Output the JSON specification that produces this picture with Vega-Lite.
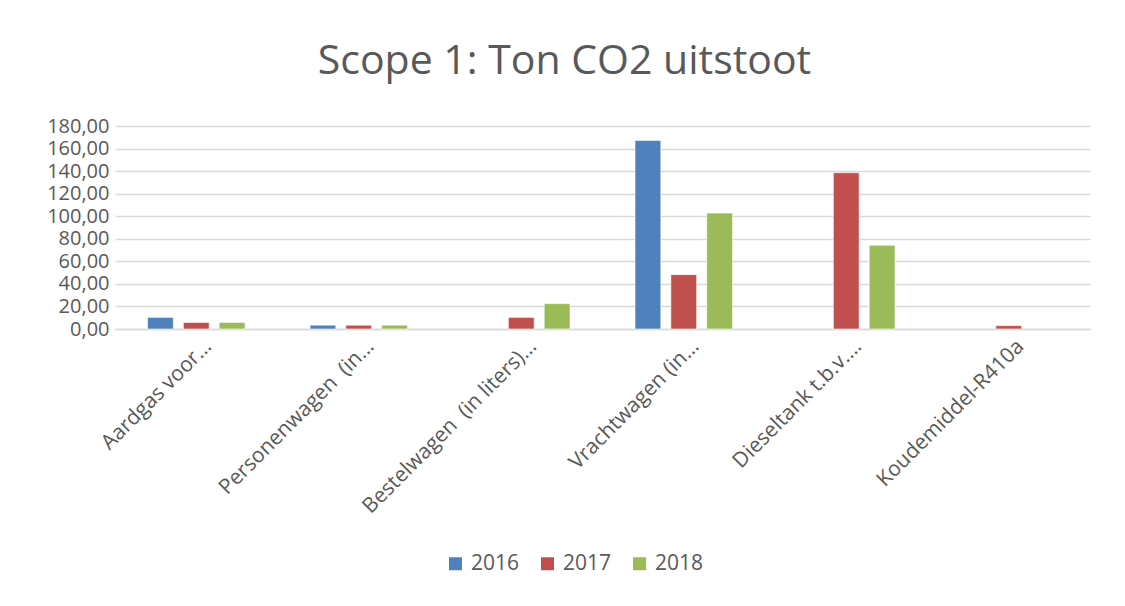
{
  "$schema": "https://vega.github.io/schema/vega-lite/v6.json",
  "width": 975,
  "height": 203,
  "autosize": {"type": "none"},
  "padding": {"left": 115, "top": 126, "right": 35, "bottom": 277},
  "background": "white",
  "title": {
    "text": "Scope 1: Ton CO2 uitstoot",
    "font": "Open Sans",
    "fontSize": 41,
    "fontWeight": "normal",
    "color": "#595959",
    "anchor": "middle",
    "dx": -38,
    "offset": 33
  },
  "data": {
    "values": [
      {"bron": "Aardgas voor…", "jaar": "2016", "ton": 10.3},
      {"bron": "Aardgas voor…", "jaar": "2017", "ton": 5.8},
      {"bron": "Aardgas voor…", "jaar": "2018", "ton": 5.8},
      {"bron": "Personenwagen  (in…", "jaar": "2016", "ton": 3.4},
      {"bron": "Personenwagen  (in…", "jaar": "2017", "ton": 3.4},
      {"bron": "Personenwagen  (in…", "jaar": "2018", "ton": 3.4},
      {"bron": "Bestelwagen  (in liters)…", "jaar": "2017", "ton": 10.3},
      {"bron": "Bestelwagen  (in liters)…", "jaar": "2018", "ton": 22.5},
      {"bron": "Vrachtwagen (in…", "jaar": "2016", "ton": 167.2},
      {"bron": "Vrachtwagen (in…", "jaar": "2017", "ton": 48.2},
      {"bron": "Vrachtwagen (in…", "jaar": "2018", "ton": 102.8},
      {"bron": "Dieseltank t.b.v.…", "jaar": "2017", "ton": 138.6},
      {"bron": "Dieseltank t.b.v.…", "jaar": "2018", "ton": 74.3},
      {"bron": "Koudemiddel-R410a", "jaar": "2017", "ton": 3.0}
    ]
  },
  "mark": {"type": "bar", "stroke": "white", "strokeWidth": 0.6},
  "encoding": {
    "x": {
      "field": "bron",
      "type": "nominal",
      "sort": null,
      "title": null,
      "scale": {"paddingInner": 0.4, "paddingOuter": 0.2},
      "axis": {
        "labelAngle": -45,
        "labelAlign": "right",
        "labelBaseline": "middle",
        "labelFont": "Open Sans",
        "labelFontSize": 21,
        "labelColor": "#595959",
        "labelPadding": 14,
        "labelOffset": 12,
        "labelLimit": 400,
        "labelExpr": "replace(datum.label, '  ', ' \u00a0')",
        "ticks": false,
        "domainColor": "#D9D9D9",
        "domainWidth": 1.5
      }
    },
    "xOffset": {
      "field": "jaar",
      "type": "nominal",
      "scale": {"paddingInner": 0.28}
    },
    "y": {
      "field": "ton",
      "type": "quantitative",
      "title": null,
      "scale": {"domain": [0, 180], "nice": false},
      "axis": {
        "values": [0, 20, 40, 60, 80, 100, 120, 140, 160, 180],
        "labelExpr": "replace(format(datum.value, '.2f'), '.', ',')",
        "labelFont": "Open Sans",
        "labelFontSize": 20,
        "labelColor": "#595959",
        "labelPadding": 6,
        "ticks": false,
        "domain": false,
        "gridColor": "#D9D9D9",
        "gridWidth": 1.5
      }
    },
    "color": {
      "field": "jaar",
      "type": "nominal",
      "scale": {"domain": ["2016", "2017", "2018"], "range": ["#4F81BD", "#C0504D", "#9BBB59"]},
      "legend": {
        "title": null,
        "orient": "none",
        "direction": "horizontal",
        "legendX": 330,
        "legendY": 427,
        "symbolType": "square",
        "symbolSize": 169,
        "symbolStrokeWidth": 0,
        "labelFont": "Open Sans",
        "labelFontSize": 21,
        "labelColor": "#595959",
        "labelOffset": 5,
        "columnPadding": 17
      }
    }
  },
  "config": {
    "view": {"stroke": null}
  }
}
